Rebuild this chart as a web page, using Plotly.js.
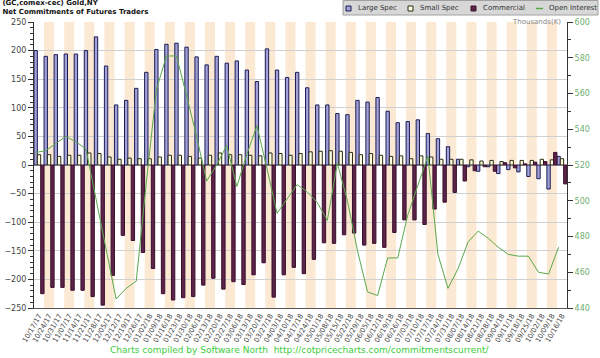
<!DOCTYPE html>
<html><head><meta charset="utf-8">
<script src="https://cdn.plot.ly/plotly-3.0.1.min.js"></script>
<style>html,body{margin:0;padding:0;background:#fff}#chart{width:600px;height:358px}</style>
</head><body><div id="chart"></div>
<script>
const dates = ["10/17/17","10/24/17","10/31/17","11/07/17","11/14/17","11/21/17","11/28/17","12/05/17","12/12/17","12/19/17","12/26/17","01/02/18","01/09/18","01/16/18","01/23/18","01/30/18","02/06/18","02/13/18","02/20/18","02/27/18","03/06/18","03/13/18","03/20/18","03/27/18","04/03/18","04/10/18","04/17/18","04/24/18","05/01/18","05/08/18","05/15/18","05/22/18","05/29/18","06/05/18","06/12/18","06/19/18","06/26/18","07/03/18","07/10/18","07/17/18","07/24/18","07/31/18","08/07/18","08/14/18","08/21/18","08/28/18","09/04/18","09/11/18","09/18/18","09/25/18","10/02/18","10/09/18","10/16/18"];
const largeSpec = [200,190,193,194,194,200,224,173,105,113,134,162,202,211,213,206,189,175,190,178,182,166,146,203,166,153,162,135,105,105,90,88,113,110,118,94,74,76,79,55,46,32,10,-3,-11,-3,-15,-8,-12,-20,-24,-42,15];
const smallSpec = [18,18,15,17,17,21,20,14,10,12,11,11,14,17,17,15,12,17,21,18,18,17,16,21,20,17,20,23,24,25,24,22,18,20,17,15,16,11,16,14,10,10,10,9,7,8,6,8,8,8,10,9,11];
const commercial = [-225,-214,-214,-219,-219,-230,-245,-193,-123,-132,-153,-181,-225,-236,-232,-230,-210,-198,-217,-204,-209,-192,-171,-231,-192,-179,-190,-165,-136,-137,-122,-119,-140,-137,-144,-118,-96,-96,-104,-77,-65,-48,-28,-10,-3,-11,4,-5,2,5,6,22,-33];
const openInterest = [527,528,532,536,533,529,501,473,445,451,455,510,562,581,581,559,536,511,520,531,508,526,542,518,493,501,509,505,499,489,521,500,472,449,447,468,468,492,508,525,470,451,462,477,483,479,474,470,469,469,460,459,474];
const seriesNames = ["Large Spec","Small Spec","Commercial","Open Interest"];

const idx = dates.map((d, i) => i);
const font = "DejaVu Sans, Verdana, sans-serif";
const colors = {
  large:{fill:'#a2a2d8', line:'#1c1c55'},
  small:{fill:'#ffffe6', line:'#2a2a10'},
  comm:{fill:'#5c2449', line:'#3a0e2e'},
  oi:'#5aa84a'
};

const traces = [
  {type:'bar', name:seriesNames[0], x: idx, y: largeSpec,
   marker:{color:colors.large.fill, line:{color:colors.large.line, width:1}}},
  {type:'bar', name:seriesNames[1], x: idx, y: smallSpec,
   marker:{color:colors.small.fill, line:{color:colors.small.line, width:1}}},
  {type:'bar', name:seriesNames[2], x: idx, y: commercial,
   marker:{color:colors.comm.fill, line:{color:colors.comm.line, width:1}}},
  {type:'scatter', mode:'lines', name:seriesNames[3], x: idx.map(i => i - 1/3), y: openInterest,
   yaxis:'y2', line:{color:colors.oi, width:1}}
];

// plot area geometry (pixels) for placing the header legend
const W = 600, H = 358, mL = 34, mR = 33, mT = 22, mB = 50;
const pw = W - mL - mR, ph = H - mT - mB;
const px = x => (x - mL) / pw;
const py = y => (H - mB - y) / ph;

const shapes = idx.filter(i => i % 2 === 1).map(i => ({
  type:'rect', xref:'x', yref:'paper', x0:i-0.5, x1:i+0.5, y0:0, y1:1,
  fillcolor:'#fce9d3', line:{width:0}, layer:'below'
}));

// legend box
shapes.push({type:'rect', xref:'paper', yref:'paper', x0:px(343), x1:px(598), y0:py(15), y1:py(0.5),
  fillcolor:'#d7d7d7', line:{color:'#a0a0a0', width:1}, layer:'above'});
const legendItems = [
  {sx:346, tx:356, c:colors.large},
  {sx:408, tx:418, c:colors.small},
  {sx:471, tx:481, c:colors.comm},
  {sx:536, tx:547, c:null}
];
const annotations = [];
legendItems.forEach((it, k) => {
  if (it.c) {
    shapes.push({type:'rect', xref:'paper', yref:'paper', x0:px(it.sx), x1:px(it.sx+5), y0:py(11), y1:py(6),
      fillcolor:it.c.fill, line:{color:it.c.line, width:1}, layer:'above'});
  } else {
    shapes.push({type:'line', xref:'paper', yref:'paper', x0:px(it.sx), x1:px(it.sx+7), y0:py(8.5), y1:py(8.5),
      line:{color:colors.oi, width:1.5}, layer:'above'});
  }
  annotations.push({text:seriesNames[k], xref:'paper', yref:'paper', x:px(it.tx), y:py(8.5),
    xanchor:'left', yanchor:'middle', showarrow:false, font:{size:7, color:'#333'}});
});
annotations.push({text:'Thousands(K)', xref:'paper', yref:'paper', x:1, y:1, xanchor:'right', yanchor:'middle',
     xshift:-4, showarrow:false, font:{size:7, color:'#888'}});
annotations.push({text:'Charts compiled by Software North  http://cotpricecharts.com/commitmentscurrent/',
     xref:'paper', yref:'paper', x:px(300), y:py(350), xanchor:'center', yanchor:'middle',
     showarrow:false, font:{size:9, color:'#3dcc3d'}});

const layout = {
  width:W, height:H,
  margin:{l:mL, r:mR, t:mT, b:mB},
  paper_bgcolor:'#ffffff', plot_bgcolor:'#ffffff',
  font:{family:font, size:8, color:'#444'},
  barmode:'group', bargap:0, bargroupgap:0,
  showlegend:false,
  title:{text:'<b>(GC,comex-cec) Gold,NY</b><br><b>Net Commitments of Futures Traders</b>',
         xref:'container', x:0.004, xanchor:'left', yref:'container', y:0.987, yanchor:'top',
         font:{family:font, size:7, color:'#111'}},
  xaxis:{range:[-0.5, 52.5], tickmode:'array', tickvals:idx, ticktext:dates, tickangle:-60,
         tickfont:{size:7, color:'#444'}, showgrid:false, zeroline:false,
         showline:true, linecolor:'#555', linewidth:1, ticks:'', fixedrange:true},
  yaxis:{range:[-250, 250], dtick:50, tick0:0, ticks:'outside', ticklen:5, tickcolor:'#333',
         minor:{dtick:10, ticks:'outside', ticklen:3, tickcolor:'#333', showgrid:false},
         showline:true, linecolor:'#333', linewidth:1, showgrid:true, gridcolor:'#d0d0d0',
         zeroline:false, tickfont:{size:8, color:'#444'}},
  yaxis2:{range:[440, 600], dtick:20, tick0:440, overlaying:'y', side:'right', ticks:'outside', ticklen:5,
          tickcolor:'#333', minor:{dtick:10, ticks:'outside', ticklen:3, tickcolor:'#333'},
          showline:true, linecolor:'#333', linewidth:1, showgrid:false, zeroline:false,
          tickfont:{size:8, color:'#6fae6f'}},
  shapes: shapes,
  annotations: annotations
};

Plotly.newPlot('chart', traces, layout, {displayModeBar:false, staticPlot:true});
</script></body></html>
